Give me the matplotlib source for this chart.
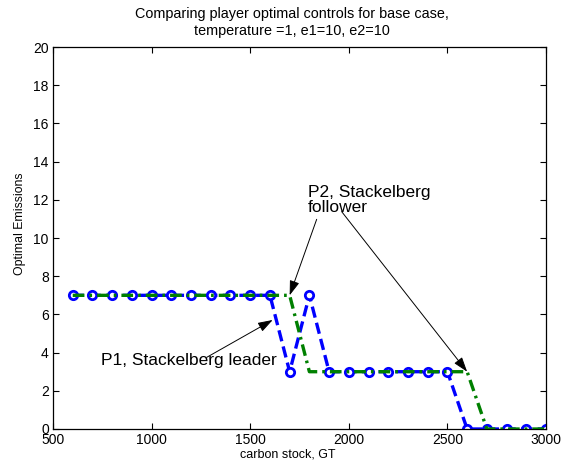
import matplotlib.pyplot as plt

plt.rcParams['font.family'] = ['Liberation Sans', 'DejaVu Sans']

# carbon stock grid and the two players' optimal emissions
carbon = [600, 700, 800, 900, 1000, 1100, 1200, 1300, 1400, 1500, 1600, 1700,
          1800, 1900, 2000, 2100, 2200, 2300, 2400, 2500, 2600, 2700, 2800,
          2900, 3000]
p1_leader = [7, 7, 7, 7, 7, 7, 7, 7, 7, 7, 7, 3,
             7, 3, 3, 3, 3, 3, 3, 3, 0, 0, 0, 0, 0]
p2_follower = [7, 7, 7, 7, 7, 7, 7, 7, 7, 7, 7, 7,
               3, 3, 3, 3, 3, 3, 3, 3, 3, 0, 0, 0, 0]

fig = plt.figure(figsize=(5.67, 4.66), dpi=100)
ax = fig.add_axes([0.0935, 0.0794, 0.8695, 0.8196])

ax.plot(carbon, p1_leader, color=(0, 0, 1), linestyle=(0, (3.4, 1.6)), lw=2.4,
        marker='o', markersize=6, markerfacecolor='white',
        markeredgewidth=2.0, zorder=2)
ax.plot(carbon, p2_follower, color=(0, 0.5, 0), linestyle=(0, (3.5, 1.5, 0.8, 1.5)),
        lw=2.4, zorder=3)

ax.set_xlim(500, 3000)
ax.set_ylim(0, 20)
ax.set_xticks([500, 1000, 1500, 2000, 2500, 3000])
ax.set_yticks(range(0, 21, 2))
ax.tick_params(direction='in', top=True, right=True, length=4, width=0.8,
               labelsize=10, pad=3)
for s in ax.spines.values():
    s.set_linewidth(0.9)

ax.set_xlabel('carbon stock, GT', fontsize=9.0, labelpad=1, x=0.476)
ax.set_ylabel('Optimal Emissions', fontsize=8.8, labelpad=5, y=0.537)
ax.set_title('Comparing player optimal controls for base case,\n'
             'temperature =1, e1=10, e2=10', fontsize=10.4, pad=9,
             linespacing=1.2, x=0.485)

arrow = dict(arrowstyle='-|>,head_length=0.9,head_width=0.3', color='black',
             lw=0.7, shrinkA=0, shrinkB=0)

# P2 label with two arrows
ax.text(1793, 12.0, 'P2, Stackelberg\nfollower', fontsize=12.5, ha='left',
        va='center', linespacing=1.0)
ax.annotate('', xy=(1700, 7), xytext=(1837, 10.98), arrowprops=arrow)
ax.annotate('', xy=(2600, 3), xytext=(1964, 11.38), arrowprops=arrow)

# P1 label with one arrow
ax.text(742, 3.6, 'P1, Stackelberg leader', fontsize=12.5, ha='left', va='center')
ax.annotate('', xy=(1614, 5.71), xytext=(1279, 3.75), arrowprops=arrow)

fig.savefig('out.png', dpi=100)
